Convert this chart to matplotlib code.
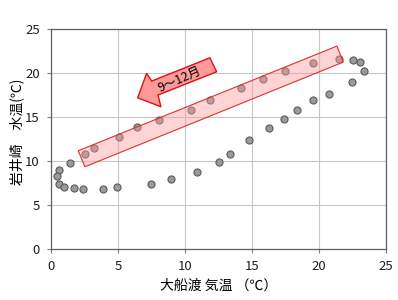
import matplotlib
matplotlib.use("Agg")
import matplotlib.pyplot as plt
from matplotlib.patches import Polygon

plt.rcParams['font.family'] = ['Noto Sans CJK JP', 'DejaVu Sans']

# Air temperature (Ofunato) vs water temperature (Iwaisaki)
air_temp = [2.57, 3.21, 5.1, 6.4, 8.1, 10.46, 11.9, 14.18, 15.87, 17.51, 19.57, 21.5,
            1.42, 0.62, 0.45, 0.62, 1.0, 1.72, 2.42, 3.9, 4.97, 7.46, 8.97, 10.95,
            12.58, 13.4, 14.78, 16.28, 17.41, 18.4, 19.57, 20.78, 22.5, 23.38, 23.09, 22.6]
water_temp = [10.83, 11.48, 12.7, 13.83, 14.66, 15.8, 16.95, 18.26, 19.38, 20.19, 21.17, 21.55,
              9.74, 8.98, 8.26, 7.42, 7.05, 6.9, 6.78, 6.78, 7.0, 7.42, 8.0, 8.7,
              9.85, 10.85, 12.35, 13.7, 14.75, 15.8, 16.93, 17.6, 19.0, 20.19, 21.22, 21.46]

ticks = [0, 5, 10, 15, 20, 25]
xlabel = "大船渡 気温 （℃）"
ylabel = "岩井崎　水温(℃)"
arrow_label = "9～12月"

# annotation shapes (data coordinates)
band_x = [2.04, 21.37, 21.85, 2.54]
band_y = [11.17, 23.07, 21.25, 9.35]
arrow_x = [6.48, 7.15, 7.53, 11.88, 12.38, 8.0, 8.22]
arrow_y = [17.19, 19.97, 19.09, 21.74, 20.15, 17.5, 16.17]

fig = plt.figure(figsize=(3.98, 3.0), dpi=100)
ax = fig.add_axes([0.128, 0.17, 0.8406, 0.733])

ax.scatter(air_temp, water_temp, s=26, facecolor='#9a9a9a', edgecolor='#5a5a5a',
           linewidth=0.8, zorder=3)

band = Polygon(list(zip(band_x, band_y)), closed=True, facecolor='#ff9999', alpha=0.42,
               edgecolor='none', zorder=4)
ax.add_patch(band)
band_edge = Polygon(list(zip(band_x, band_y)), closed=True, facecolor='none',
                    edgecolor='#e03030', linewidth=0.8, zorder=4)
ax.add_patch(band_edge)

arrow = Polygon(list(zip(arrow_x, arrow_y)), closed=True, facecolor='#ff9a9a',
                edgecolor='#e01010', linewidth=1.0, zorder=5)
ax.add_patch(arrow)
ax.text(9.64, 19.26, arrow_label, rotation=24, ha='center', va='center',
        fontsize=9, color='black', zorder=6, rotation_mode='anchor')

ax.set_xlim(0, 25)
ax.set_ylim(0, 25)
ax.set_xticks(ticks)
ax.set_yticks(ticks)
ax.grid(True, color='#c8c8c8', linewidth=0.8, zorder=0)
ax.set_axisbelow(True)
for s in ax.spines.values():
    s.set_color('#606060')
    s.set_linewidth(0.9)
ax.tick_params(axis='both', direction='out', length=3, color='#808080',
               labelsize=9.5, labelcolor='#202020', pad=5)

ax.set_xlabel(xlabel, fontsize=10, labelpad=4)
fig.text(17 / 398, 0.56, ylabel, rotation=90, ha='center', va='center', fontsize=10)

fig.savefig("out.png", dpi=100)
